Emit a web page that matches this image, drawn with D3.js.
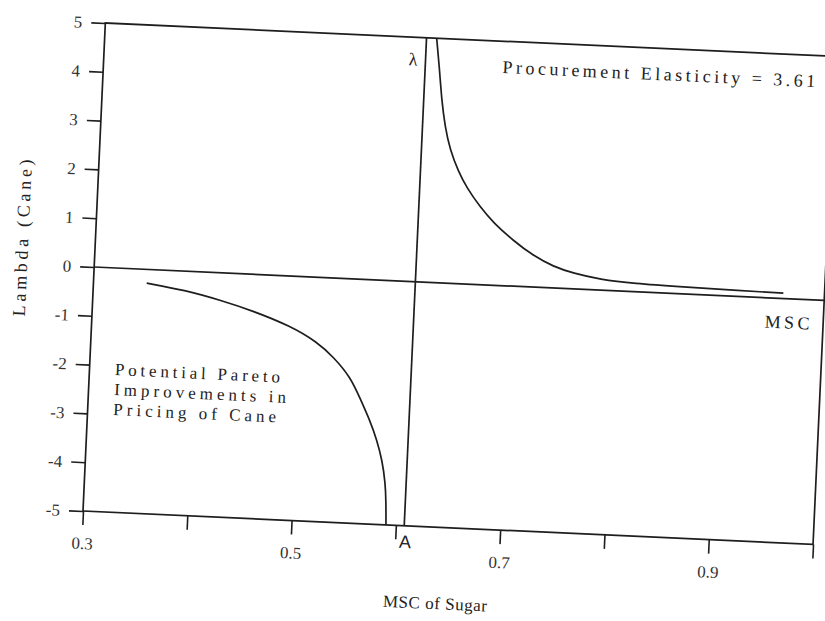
<!DOCTYPE html>
<html><head><meta charset="utf-8">
<script src="https://cdn.jsdelivr.net/npm/d3@7"></script>
<style>
body{margin:0;background:#fff;}
</style>
</head><body>
<svg id="chart" width="825" height="621"></svg>
<script>
// ---- data ----
const xTicks = [0.3, 0.4, 0.5, 0.6, 0.7, 0.8, 0.9, 1.0];
const xTickLabels = ["0.3", "", "0.5", "", "0.7", "", "0.9", ""];
const yTicks = [-5, -4, -3, -2, -1, 0, 1, 2, 3, 4, 5];
const yTickLabels = ["-5", "-4", "-3", "-2", "-1", "0", "1", "2", "3", "4", "5"];

const leftBranchX = [0.351, 0.388, 0.422, 0.454, 0.490, 0.517, 0.533, 0.550, 0.560, 0.571, 0.578, 0.584, 0.588, 0.5895, 0.5905];
const leftBranchY = [-0.28, -0.39, -0.56, -0.75, -1.02, -1.33, -1.62, -2.01, -2.43, -2.90, -3.27, -3.68, -4.14, -4.52, -5.0];

const rightBranchX = [0.6177, 0.6215, 0.6252, 0.6296, 0.6354, 0.6442, 0.653, 0.6666, 0.680, 0.700, 0.7198, 0.7393, 0.7587, 0.7846, 0.8166, 0.8646, 0.9126, 0.9606];
const rightBranchY = [5.0, 4.42, 3.74, 3.20, 2.73, 2.30, 1.97, 1.59, 1.28, 0.93, 0.64, 0.44, 0.32, 0.22, 0.17, 0.145, 0.125, 0.11];

const lambdaLineX = [0.608, 0.608];
const lambdaLineY = [-5, 5];
const mscLineX = [0.3, 1.0];
const mscLineY = [0, 0];

const xTitle = "MSC of Sugar";
const yTitle = "Lambda (Cane)";
const elasticityNote = "Procurement Elasticity = 3.61";
const paretoNote = ["Potential Pareto", "Improvements in", "Pricing of Cane"];

// ---- layout ----
const FONT = '"Liberation Serif"';
const W = 730.8, H = 488.5;
const svg = d3.select("#chart");
svg.append("rect").attr("width", 825).attr("height", 621).attr("fill", "#fff");
const g = svg.append("g")
  .attr("transform", "translate(83,511) rotate(2.62) translate(0,-488.5)")
  .attr("font-family", FONT);

const x = d3.scaleLinear().domain([0.3, 1.0]).range([0, W]);
const y = d3.scaleLinear().domain([-5, 5]).range([H, 0]);

const ink = "#1e1e1e";

// frame
g.append("rect").attr("x", x(0.3)).attr("y", y(5))
  .attr("width", x(1.0) - x(0.3)).attr("height", y(-5) - y(5))
  .attr("fill", "none").attr("stroke", ink).attr("stroke-width", 1.7);

// axes
const xAxis = d3.axisBottom(x).tickValues(xTicks)
  .tickFormat((d, i) => xTickLabels[i]).tickSize(14).tickPadding(12);
const gx = g.append("g").attr("transform", `translate(0,${H})`).call(xAxis);
const yAxis = d3.axisLeft(y).tickValues(yTicks)
  .tickFormat((d, i) => yTickLabels[i]).tickSize(14).tickPadding(9);
const gy = g.append("g").call(yAxis);
[gx, gy].forEach(a => {
  a.attr("font-family", FONT).attr("font-size", 17);
  a.select(".domain").remove();
  a.selectAll(".tick line").attr("stroke", ink).attr("stroke-width", 1.6);
  a.selectAll(".tick text").attr("fill", "#333").attr("font-family", FONT);
});

// lines
const line = d3.line().x(d => x(d[0])).y(d => y(d[1]));
const smooth = d3.line().x(d => x(d[0])).y(d => y(d[1])).curve(d3.curveBasis);
const zip = (a, b) => a.map((v, i) => [v, b[i]]);

g.append("path").datum(zip(mscLineX, mscLineY)).attr("d", line)
  .attr("fill", "none").attr("stroke", ink).attr("stroke-width", 1.7);
g.append("path").datum(zip(lambdaLineX, lambdaLineY)).attr("d", line)
  .attr("fill", "none").attr("stroke", ink).attr("stroke-width", 1.7);
g.append("path").datum(zip(leftBranchX, leftBranchY)).attr("d", smooth)
  .attr("fill", "none").attr("stroke", ink).attr("stroke-width", 1.7);
g.append("path").datum(zip(rightBranchX, rightBranchY)).attr("d", smooth)
  .attr("fill", "none").attr("stroke", ink).attr("stroke-width", 1.7);

// annotations
g.append("text").attr("x", x(0.682)).attr("y", y(4.35))
  .attr("font-size", 18).attr("textLength", 313).attr("lengthAdjust", "spacing")
  .attr("fill", "#222").text(elasticityNote);
g.append("text").attr("x", x(0.596)).attr("y", y(4.55)).attr("dy", "0.35em")
  .attr("text-anchor", "middle").attr("font-size", 18).attr("fill", "#222").text("λ");
g.append("text").attr("x", x(0.6095)).attr("y", H + 16).attr("dy", "0.35em")
  .attr("text-anchor", "middle").attr("font-size", 18).attr("fill", "#222")
  .attr("font-family", '"Liberation Sans"').text("A");
g.append("text").attr("x", x(0.9655)).attr("y", y(-0.48)).attr("dy", "0.35em")
  .attr("text-anchor", "middle").attr("font-size", 18).attr("fill", "#222")
  .attr("textLength", 45).attr("lengthAdjust", "spacing").text("MSC");

const paretoWidths = [165, 172, 163];
paretoNote.forEach((t, i) => {
  g.append("text").attr("x", x(0.3245)).attr("y", y(-2.19) + i * 20)
    .attr("font-size", 17).attr("textLength", paretoWidths[i]).attr("fill", "#222")
    .attr("lengthAdjust", "spacing").text(t);
});

// axis titles
g.append("text").attr("x", x(0.3 + 355.8 / W * 0.7)).attr("y", H + 76).attr("dy", "0.35em")
  .attr("text-anchor", "middle").attr("font-size", 17).attr("fill", "#222")
  .attr("textLength", 104).attr("lengthAdjust", "spacing").text(xTitle);
g.append("text")
  .attr("transform", `translate(-67,${y(0.53)}) rotate(-90)`)
  .attr("text-anchor", "middle").attr("font-size", 18).attr("fill", "#222")
  .attr("textLength", 157).attr("lengthAdjust", "spacing").text(yTitle);
</script>
</body></html>
